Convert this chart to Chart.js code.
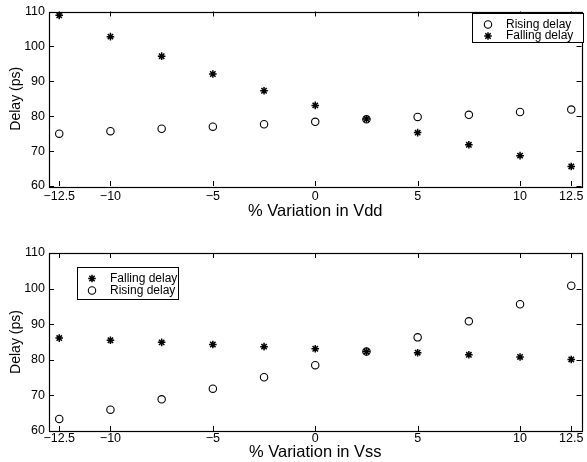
<!DOCTYPE html>
<html>
<head>
<meta charset="utf-8">
<script src="https://cdn.jsdelivr.net/npm/chart.js@4.4.0/dist/chart.umd.min.js"></script>
<style>
    html, body { margin: 0; padding: 0; background: #fff; }
    #wrap { position: relative; width: 587px; height: 462px; }
    .box { position: absolute; left: 0; width: 587px; height: 231px; }
</style>
</head>
<body>
<div id="wrap">
    <div class="box" style="top:0"><canvas id="vddChart"></canvas></div>
    <div class="box" style="top:231px"><canvas id="vssChart"></canvas></div>
</div>
<script>
// values
const variation = [-12.5, -10, -7.5, -5, -2.5, 0, 2.5, 5, 7.5, 10, 12.5];
const xTickValues = [-12.5, -10, -5, 0, 5, 10, 12.5];
const yTickValues = [60, 70, 80, 90, 100, 110];

const vddRising = [75.0, 75.7, 76.4, 77.0, 77.7, 78.4, 79.1, 79.8, 80.4, 81.2, 81.9];
const vddFalling = [108.9, 102.8, 97.2, 92.1, 87.3, 83.1, 79.2, 75.3, 71.8, 68.7, 65.6];

const vssFalling = [86.1, 85.5, 84.9, 84.3, 83.7, 83.1, 82.3, 82.0, 81.4, 80.8, 80.1];
const vssRising = [63.4, 66.0, 68.9, 71.9, 75.1, 78.5, 82.3, 86.3, 90.8, 95.6, 100.8];

const FONT = '"Liberation Sans", Arial, Helvetica, sans-serif';

function toPoints(values) {
    return variation.map((v, i) => ({ x: v, y: values[i] }));
}

function risingSet(values) {
    return {
        label: 'Rising delay',
        data: toPoints(values),
        pointStyle: 'circle',
        pointRadius: 3.7,
        pointBorderWidth: 1.1,
        borderColor: '#000',
        backgroundColor: 'rgba(0,0,0,0)',
        showLine: false
    };
}

function fallingSet(values) {
    return {
        label: 'Falling delay',
        data: toPoints(values),
        pointStyle: 'star',
        pointRadius: 3.8,
        pointBorderWidth: 1.5,
        borderColor: '#000',
        backgroundColor: '#000',
        showLine: false
    };
}

// box + inward tick marks, matlab style
const frameTicks = {
    id: 'frameTicks',
    afterDatasetsDraw(chart) {
        const ctx = chart.ctx;
        const a = chart.chartArea;
        const xs = chart.scales.x, ys = chart.scales.y;
        const len = 5;
        ctx.save();
        ctx.strokeStyle = '#000';
        ctx.lineWidth = 1;
        ctx.beginPath();
        xTickValues.forEach(v => {
            const px = Math.round(xs.getPixelForValue(v)) + 0.5;
            ctx.moveTo(px, a.bottom); ctx.lineTo(px, a.bottom - len);
            ctx.moveTo(px, a.top); ctx.lineTo(px, a.top + len);
        });
        yTickValues.forEach(v => {
            const py = Math.round(ys.getPixelForValue(v)) + 0.5;
            ctx.moveTo(a.left, py); ctx.lineTo(a.left + len, py);
            ctx.moveTo(a.right, py); ctx.lineTo(a.right - len, py);
        });
        ctx.stroke();
        ctx.lineWidth = 1.2;
        ctx.strokeRect(Math.round(a.left) + 0.5, Math.round(a.top) + 0.5,
            Math.round(a.right - a.left), Math.round(a.bottom - a.top));
        ctx.restore();
    }
};

// legend box sitting inside the axes
const boxLegend = {
    id: 'boxLegend',
    afterDraw(chart, args, opts) {
        if (!opts || !opts.box) return;
        const ctx = chart.ctx;
        const b = opts.box;
        ctx.save();
        ctx.fillStyle = '#fff';
        ctx.fillRect(b.x, b.y, b.w, b.h);
        ctx.strokeStyle = '#000';
        ctx.lineWidth = 1;
        ctx.strokeRect(b.x + 0.5, b.y + 0.5, b.w, b.h);
        chart.data.datasets.forEach((ds, i) => {
            const rowY = opts.rows[i];
            ctx.strokeStyle = '#000';
            ctx.fillStyle = ds.pointStyle === 'circle' ? 'rgba(0,0,0,0)' : '#000';
            ctx.lineWidth = ds.pointBorderWidth;
            Chart.helpers.drawPoint(ctx, {
                pointStyle: ds.pointStyle,
                radius: ds.pointRadius,
                rotation: 0,
                borderWidth: ds.pointBorderWidth
            }, opts.markerX, rowY);
            ctx.fillStyle = '#000';
            ctx.font = '12px ' + FONT;
            ctx.textBaseline = 'middle';
            ctx.textAlign = 'left';
            ctx.fillText(ds.label, opts.textX, rowY);
        });
        ctx.restore();
    }
};

function buildOptions(xTitle, pad, tickPad, titlePad, legendOpts) {
    return {
        responsive: true,
        maintainAspectRatio: false,
        animation: false,
        devicePixelRatio: 1,
        layout: { padding: { left: 0, right: 4, top: pad.top, bottom: 0 } },
        plugins: {
            legend: { display: false },
            tooltip: { enabled: false },
            boxLegend: legendOpts
        },
        scales: {
            x: {
                type: 'linear',
                min: -13,
                max: 13,
                afterBuildTicks: (scale) => {
                    scale.ticks = xTickValues.map(v => ({ value: v }));
                },
                afterFit: (scale) => { scale.height = pad.xHeight; },
                grid: { display: false, drawTicks: false },
                border: { display: false },
                ticks: {
                    padding: tickPad,
                    autoSkip: false,
                    maxRotation: 0,
                    color: '#000',
                    font: { family: FONT, size: 12.5 },
                    callback: (v) => String(v).replace('-', '\u2212')
                },
                title: {
                    display: true,
                    text: xTitle,
                    color: '#000',
                    font: { family: FONT, size: 16.5 },
                    padding: { top: 0, bottom: titlePad }
                }
            },
            y: {
                min: 60,
                max: 110,
                afterFit: (scale) => { scale.width = 49; },
                grid: { display: false, drawTicks: false },
                border: { display: false },
                ticks: {
                    stepSize: 10,
                    padding: 4,
                    color: '#000',
                    font: { family: FONT, size: 12.5 }
                },
                title: {
                    display: true,
                    text: 'Delay (ps)',
                    color: '#000',
                    font: { family: FONT, size: 14 },
                    padding: { top: 8, bottom: 0 }
                }
            }
        }
    };
}

function loadVddChart() {
    const canvas = document.getElementById('vddChart');
    new Chart(canvas.getContext('2d'), {
        type: 'scatter',
        data: { datasets: [risingSet(vddRising), fallingSet(vddFalling)] },
        options: buildOptions('% Variation in Vdd', { top: 8, xHeight: 45 }, 3, 10, {
            box: { x: 472, y: 13, w: 111, h: 29 },
            rows: [24.5, 36],
            markerX: 488,
            textX: 506
        }),
        plugins: [frameTicks, boxLegend]
    });
}

function loadVssChart() {
    const canvas = document.getElementById('vssChart');
    new Chart(canvas.getContext('2d'), {
        type: 'scatter',
        data: { datasets: [fallingSet(vssFalling), risingSet(vssRising)] },
        options: buildOptions('% Variation in Vss', { top: 22, xHeight: 31 }, 0, 0, {
            box: { x: 77, y: 36, w: 101, h: 32 },
            rows: [47.5, 59.5],
            markerX: 92,
            textX: 110
        }),
        plugins: [frameTicks, boxLegend]
    });
}

loadVddChart();
loadVssChart();
</script>
</body>
</html>
